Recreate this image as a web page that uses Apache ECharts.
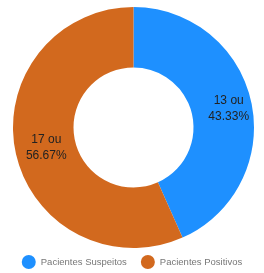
<!DOCTYPE html>
<html lang="pt">

<head>
    <meta charset="UTF-8">
    <title>Pacientes</title>
    <script src="https://cdn.jsdelivr.net/npm/echarts@6/dist/echarts.min.js"></script>
    <style>
        html, body { margin: 0; padding: 0; background: #fff; }
        #pie_show { width: 264px; height: 273px; }
    </style>
</head>

<body>
    <div id="pie_show"></div>
    <script>
        // dados do gráfico
        var categorias = ['Pacientes Suspeitos', 'Pacientes Positivos'];
        var valores = [13, 17];
        var cores = ['#1e90ff', '#d2691e'];

        function pie_show() {
            var myChart = echarts.init(document.getElementById('pie_show'));

            var pieDatas = categorias.map(function (nome, i) {
                return { name: nome, value: valores[i], itemStyle: { color: cores[i] } };
            });

            var option = {
                animation: false,
                legend: {
                    top: 250,
                    left: 'center',
                    icon: 'circle',
                    itemWidth: 14,
                    itemHeight: 14,
                    itemGap: 14,
                    textStyle: {
                        color: '#777',
                        fontSize: 9.5,
                        fontFamily: 'Liberation Sans'
                    },
                    data: categorias
                },
                series: [{
                    type: 'pie',
                    center: [133.5, 127.5],
                    radius: [60, 120.5],
                    startAngle: 90,
                    clockwise: true,
                    avoidLabelOverlap: false,
                    label: {
                        show: true,
                        position: 'inside',
                        align: 'left',
                        offset: [4, 1],
                        color: '#222',
                        fontSize: 12,
                        lineHeight: 16,
                        fontFamily: 'Liberation Sans',
                        formatter: function (p) {
                            return p.value + ' ou\n' + p.percent.toFixed(2) + '%';
                        }
                    },
                    labelLine: { show: false },
                    data: pieDatas
                }]
            };

            myChart.setOption(option);
        }

        pie_show();
    </script>
</body>

</html>
